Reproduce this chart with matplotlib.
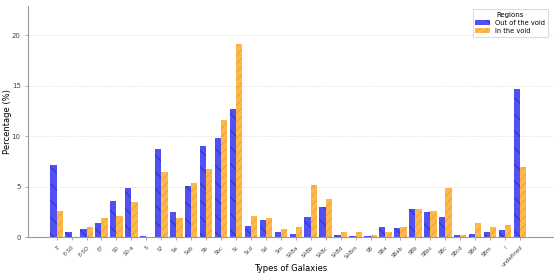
import matplotlib.pyplot as plt
import numpy as np

types = ["E", "E-S0", "E-SO", "E?", "S0", "S0-a", "S", "S?", "Sa", "Sab", "Sb", "Sbc", "Sc",
         "Scd", "Sd", "Sm", "SABa", "SABb", "SABc", "SABd", "SABm", "SB", "SBa", "SBab",
         "SBb", "SBbc", "SBc", "SBcd", "SBd", "SBm", "I", "undefined"]
out_void = [7.2, 0.5, 0.8, 1.45, 3.6, 4.9, 0.13, 8.7, 2.5, 5.1, 9.0, 9.8, 12.7,
            1.15, 1.7, 0.56, 0.33, 2.0, 3.0, 0.23, 0.13, 0.13, 1.02, 0.92,
            2.77, 2.5, 2.0, 0.26, 0.33, 0.56, 0.73, 14.7]
in_void = [2.6, 0.0, 0.96, 1.9, 2.1, 3.5, 0.0, 6.5, 1.9, 5.4, 6.8, 11.65, 19.1,
           2.1, 1.9, 0.76, 0.96, 5.2, 3.8, 0.56, 0.56, 0.26, 0.53, 0.96,
           2.84, 2.64, 4.9, 0.26, 1.45, 0.96, 1.19, 7.0]

plt.rcParams['hatch.linewidth'] = 0.5
fig, ax = plt.subplots(figsize=(5.54, 2.79), dpi=100)
x = np.arange(len(types))
w = 0.42
ax.bar(x - w / 2, out_void, w, color='#2424f0', alpha=0.8, hatch='\\\\', edgecolor='#1a1aa0',
       linewidth=0, label='Out of the void')
ax.bar(x + w / 2, in_void, w, color='#ffa620', alpha=0.8, hatch='////', edgecolor='#e89010',
       linewidth=0, label='In the void')

ax.set_xticks(x)
ax.set_xticklabels(types, rotation=45, ha='right', rotation_mode='anchor', fontsize=4, color='#444444')
ax.tick_params(axis='x', length=2, width=0.5, colors='#888888', labelcolor='#444444', labelsize=4)
ax.tick_params(axis='y', length=2, width=0.5, colors='#888888', labelcolor='#444444', labelsize=5)
ax.set_xlim(-1.9, 33.2)
ax.set_ylim(0, 22.9)
ax.set_xlabel('Types of Galaxies', fontsize=6)
ax.set_ylabel('Percentage (%)', fontsize=6)
ax.xaxis.set_label_coords(0.5, -0.118)
ax.yaxis.set_label_coords(-0.031, 0.5)
ax.yaxis.grid(True, linestyle=':', linewidth=0.5, color='#cccccc')
ax.set_axisbelow(True)
for s in ['top', 'right']:
    ax.spines[s].set_visible(False)
for s in ['left', 'bottom']:
    ax.spines[s].set_color('#999999')
    ax.spines[s].set_linewidth(0.8)

leg = ax.legend(title='Regions', fontsize=4.8, title_fontsize=5, loc='upper right',
                bbox_to_anchor=(0.997, 1.0), fancybox=False, framealpha=1, edgecolor='#cccccc',
                handlelength=2.2, borderpad=0.4, labelspacing=0.3)
leg.get_frame().set_linewidth(0.5)

plt.subplots_adjust(left=0.051, right=0.998, top=0.978, bottom=0.15)
plt.savefig('out.png', dpi=100)
